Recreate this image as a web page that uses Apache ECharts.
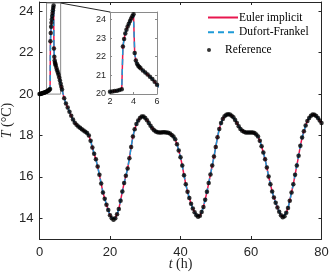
<!DOCTYPE html>
<html><head><meta charset="utf-8">
<script src="https://cdn.jsdelivr.net/npm/echarts@6/dist/echarts.min.js"></script>
<style>html,body{margin:0;padding:0;background:#fff}#c{width:332px;height:276px}</style>
</head><body><div id="c"></div>
<script>
// ---- data ----
const xTicks = [0, 20, 40, 60, 80];
const yTicks = [14, 16, 18, 20, 22, 24];
const insetXTicks = [2, 4, 6];
const insetYTicks = [20, 21, 22, 23, 24];
const xRange = [0, 80];
const yRange = [13, 24.45];
const insetXRange = [2, 6];
const insetYRange = [20, 24.4];
const seriesNames = ['Euler implicit', 'Dufort-Frankel', 'Reference'];

// [time (h), temperature (°C)]
const warmupReadings = [
  [0,20.00],[0.2,20.01],[0.4,20.02],[0.6,20.03],[0.8,20.04],[1.0,20.05],[1.2,20.06],[1.4,20.07],
  [1.6,20.09],[1.8,20.10],[2.0,20.12],[2.2,20.14],[2.4,20.16],[2.6,20.18],[2.8,20.21],[3.0,20.25],
  [3.1,22.55],[3.2,22.95],[3.3,23.25],[3.4,23.45],[3.5,23.62],[3.6,23.77],[3.7,23.92],[3.8,24.05],
  [3.9,24.17],[4.0,24.28],[4.1,22.20],[4.2,21.80],[4.3,21.62],[4.4,21.52],[4.5,21.45],[4.6,21.38],
  [4.8,21.26],[5.0,21.15],[5.2,21.04],[5.4,20.93],[5.6,20.80],[5.8,20.66],[6.0,20.50],[6.2,20.36],[6.4,20.22]
];
const cycleReadings = [
  [7.0,19.80],[7.5,19.55],[8.0,19.35],[8.5,19.15],[9.0,18.95],[9.5,18.77],[10.0,18.62],[10.5,18.52],
  [11.0,18.44],[11.5,18.37],[12.0,18.30],[12.5,18.24],[13.0,18.18],[13.5,18.12],[14.0,18.00],[14.5,17.75],
  [15.0,17.42],[15.5,17.12],[16.0,16.85],[16.5,16.50],[17.0,16.10],[17.5,15.68],[18.0,15.25],[18.5,14.95],
  [19.0,14.65],[19.5,14.40],[20.0,14.15],[20.5,14.00],[21.0,13.93],[21.5,14.00],[22.0,14.20],[22.5,14.45],
  [23.0,14.85],[23.5,15.30],[24.0,15.70],[24.5,16.05],[25.0,16.40],[25.5,16.90],[26.0,17.45],[26.5,17.95],
  [27.0,18.30],[27.5,18.55],[28.0,18.73],[28.5,18.85],[29.0,18.92],[29.5,18.92],[30.0,18.85],[30.5,18.74],
  [31.0,18.60],[31.5,18.47],[32.0,18.35],[32.5,18.25],[33.0,18.19],[33.5,18.16],[34.0,18.15],[34.5,18.15],
  [35.0,18.16],[35.5,18.16],[36.0,18.15],[36.5,18.13],[37.0,18.10],[37.5,18.03],[38.0,17.95],[38.5,17.82],
  [39.0,17.58],[39.5,17.28],[40.0,16.95],[40.5,16.55],[41.0,16.08],[41.5,15.65],[42.0,15.28],[42.5,14.98],
  [43.0,14.70],[43.5,14.47],[44.0,14.29],[44.5,14.15],[45.0,14.07],[45.5,14.12],[46.0,14.30],[46.5,14.55],
  [47.0,14.90],[47.5,15.28],[48.0,15.70],[48.5,16.12],[49.0,16.55],[49.5,16.98],[50.0,17.45],[50.5,17.92],
  [51.0,18.32],[51.5,18.60],[52.0,18.80],[52.5,18.93],[53.0,19.00],[53.5,19.03],[54.0,19.01],[54.5,18.96],
  [55.0,18.88],[55.5,18.75],[56.0,18.60],[56.5,18.45],[57.0,18.32],[57.5,18.23],[58.0,18.18],[58.5,18.15],
  [59.0,18.15],[59.5,18.15],[60.0,18.15],[60.5,18.15],[61.0,18.12],[61.5,18.05],[62.0,17.95],[62.5,17.75],
  [63.0,17.48],[63.5,17.18],[64.0,16.85],[64.5,16.45],[65.0,16.02],[65.5,15.65],[66.0,15.30],[66.5,15.00],
  [67.0,14.75],[67.5,14.52],[68.0,14.32],[68.5,14.15],[69.0,14.05],[69.5,14.10],[70.0,14.27],[70.5,14.50],
  [71.0,14.85],[71.5,15.25],[72.0,15.65],[72.5,16.10],[73.0,16.55],[73.5,17.02],[74.0,17.50],[74.5,17.90],
  [75.0,18.20],[75.5,18.48],[76.0,18.70],[76.5,18.85],[77.0,18.96],[77.5,19.02],[78.0,19.00],[78.5,18.94],
  [79.0,18.85],[79.5,18.72],[80.0,18.60]
];
// numerical solutions coincide with the reference readings at this scale
const referenceTemp = warmupReadings.concat(cycleReadings);
const eulerTemp = referenceTemp;
const dufortTemp = referenceTemp;

// ---- styling ----
const AX = '#262626', FRAME = '#8a8a8a';
const RED = '#e8174f', BLUE = '#1e9bd7';
const sans = 'Liberation Sans', serif = 'Liberation Serif';

function axisCommon(extra) {
  return Object.assign({
    type: 'value',
    splitLine: { show: false },
    axisLine: { show: true, onZero: false, lineStyle: { color: AX, width: 1 } },
    axisTick: { show: true, inside: true, length: 3, lineStyle: { color: AX } },
    axisLabel: { color: AX, fontFamily: sans, fontSize: 13 }
  }, extra);
}

const chart = echarts.init(document.getElementById('c'), null, { renderer: 'canvas' });

const zoomBox = [
  [insetXRange[0], insetYRange[0]], [insetXRange[0], insetYRange[1]],
  [insetXRange[1], insetYRange[1]], [insetXRange[1], insetYRange[0]],
  [insetXRange[0], insetYRange[0]]
];

function triple(xi, yi, z0) {
  return [
    { name: seriesNames[0], type: 'line', xAxisIndex: xi, yAxisIndex: yi, data: eulerTemp,
      symbol: 'none', showSymbol: false, clip: true, z: z0,
      lineStyle: { color: RED, width: 1.5 }, itemStyle: { color: RED } },
    { name: seriesNames[1], type: 'line', xAxisIndex: xi, yAxisIndex: yi, data: dufortTemp,
      symbol: 'none', showSymbol: false, clip: true, z: z0 + 1,
      lineStyle: { color: BLUE, width: 1.5, type: [6, 4] }, itemStyle: { color: BLUE } },
    { name: seriesNames[2], type: 'scatter', xAxisIndex: xi, yAxisIndex: yi, data: referenceTemp,
      symbol: 'circle', symbolSize: 4.5, clip: true, z: z0 + 2,
      itemStyle: { color: '#000' } }
  ];
}

const nameStyle = { color: AX, fontFamily: serif, fontSize: 14,
  rich: { it: { fontStyle: 'italic', fontFamily: serif, fontSize: 14, color: AX } } };

const option = {
  animation: false,
  backgroundColor: '#fff',
  grid: [
    { left: 39.5, top: 2, width: 282, height: 237, containLabel: false, outerBoundsMode: 'none' },
    { left: 110, top: 12, width: 47, height: 82, containLabel: false, outerBoundsMode: 'none',
      show: true, backgroundColor: '#fff', borderWidth: 0, z: 10 }
  ],
  xAxis: [
    axisCommon({ gridIndex: 0, position: 'bottom', min: xRange[0], max: xRange[1], interval: 20,
      axisLabel: { color: AX, fontFamily: sans, fontSize: 13, margin: 7 },
      name: '{it|t} (h)', nameLocation: 'middle', nameGap: 18, nameMoveOverlap: false,
      nameTextStyle: nameStyle }),
    axisCommon({ gridIndex: 0, position: 'top', min: xRange[0], max: xRange[1], interval: 20,
      axisLabel: { show: false } }),
    axisCommon({ gridIndex: 1, position: 'bottom', min: insetXRange[0], max: insetXRange[1], interval: 2, z: 11,
      axisLine: { show: true, onZero: false, lineStyle: { color: FRAME, width: 1 } },
      axisTick: { show: true, inside: true, length: 2, lineStyle: { color: FRAME } },
      axisLabel: { color: AX, fontFamily: sans, fontSize: 9, margin: 3 } }),
    axisCommon({ gridIndex: 1, position: 'top', min: insetXRange[0], max: insetXRange[1], interval: 2, z: 11,
      axisLine: { show: true, onZero: false, lineStyle: { color: FRAME, width: 1 } },
      axisTick: { show: true, inside: true, length: 2, lineStyle: { color: FRAME } },
      axisLabel: { show: false } })
  ],
  yAxis: [
    axisCommon({ gridIndex: 0, position: 'left', min: yRange[0], max: yRange[1],
      axisTick: { show: true, inside: true, length: 3, lineStyle: { color: AX }, customValues: yTicks },
      axisLabel: { color: AX, fontFamily: sans, fontSize: 13, margin: 6, customValues: yTicks },
      name: '{it|T} (°C)', nameLocation: 'middle', nameGap: 25, nameRotate: 90, nameMoveOverlap: false,
      nameTextStyle: nameStyle }),
    axisCommon({ gridIndex: 0, position: 'right', min: yRange[0], max: yRange[1],
      axisTick: { show: true, inside: true, length: 3, lineStyle: { color: AX }, customValues: yTicks },
      axisLabel: { show: false } }),
    axisCommon({ gridIndex: 1, position: 'left', min: insetYRange[0], max: insetYRange[1], z: 11,
      axisLine: { show: true, onZero: false, lineStyle: { color: FRAME, width: 1 } },
      axisTick: { show: true, inside: true, length: 2, lineStyle: { color: FRAME }, customValues: insetYTicks },
      axisLabel: { color: AX, fontFamily: sans, fontSize: 9, margin: 4, customValues: insetYTicks } }),
    axisCommon({ gridIndex: 1, position: 'right', min: insetYRange[0], max: insetYRange[1], z: 11,
      axisLine: { show: true, onZero: false, lineStyle: { color: FRAME, width: 1 } },
      axisTick: { show: true, inside: true, length: 2, lineStyle: { color: FRAME }, customValues: insetYTicks },
      axisLabel: { show: false } })
  ],
  legend: [
    { data: [seriesNames[0], seriesNames[1]],
      orient: 'vertical', left: 207, top: 11.5, padding: 0,
      itemWidth: 30, itemHeight: 14, itemGap: 2.7, selectedMode: false,
      itemStyle: { opacity: 0 },
      textStyle: { fontFamily: serif, fontSize: 11.5, color: '#000', padding: [0, 0, 0, -4] } },
    { data: [seriesNames[2]], orient: 'vertical', left: 207, top: 44, padding: 0,
      itemWidth: 30, itemHeight: 4, selectedMode: false,
      textStyle: { fontFamily: serif, fontSize: 11.5, color: '#000', padding: [0, 0, 0, -4] } }
  ],
  series: [
    { type: 'line', xAxisIndex: 0, yAxisIndex: 0, data: zoomBox, symbol: 'none', silent: true, z: 1,
      lineStyle: { color: FRAME, width: 1 } }
  ].concat(triple(0, 0, 2), triple(2, 2, 12))
};
chart.setOption(option);

// connector from the zoom box corner to the inset's top-left corner
const from = chart.convertToPixel({ gridIndex: 0 }, [insetXRange[1], insetYRange[1]]);
const to = chart.convertToPixel({ gridIndex: 1 }, [insetXRange[0], insetYRange[1]]);
chart.setOption({
  graphic: [{ type: 'line', silent: true, z: 20,
    shape: { x1: from[0], y1: from[1], x2: to[0], y2: to[1] },
    style: { stroke: AX, lineWidth: 1 } }]
});
</script>
</body></html>
